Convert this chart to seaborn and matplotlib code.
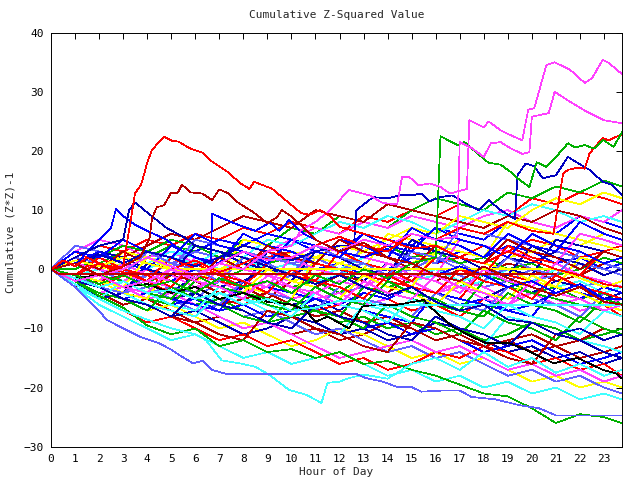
import matplotlib
matplotlib.use("Agg")
import matplotlib.pyplot as plt
import seaborn as sns
import pandas as pd

# hourly sample points used by the bulk of the traces
HOURS = list(range(24)) + [23.75]

# bulk of the traces (one value per hour)
LINE_01 = [0, 2, 4, 3, 5, 4, 6, 5, 7, 6, 8, 7, 6, 9, 8, 10, 9, 11, 10, 9, 12, 11, 13, 12, 11]
LINE_02 = [0, -1, 1, 3, 2, 4, 3, 2, 5, 4, 7, 6, 9, 8, 7, 10, 12, 11, 10, 13, 12, 14, 13, 15, 14]
LINE_03 = [0, 1, -1, 0, 2, 1, 3, 5, 4, 6, 5, 4, 3, 6, 5, 4, 7, 6, 5, 8, 7, 6, 9, 8, 7]
LINE_04 = [0, 3, 5, 4, 2, 3, 1, 2, 4, 3, 5, 7, 6, 8, 7, 9, 8, 7, 9, 10, 8, 7, 9, 8, 10]
LINE_05 = [0, -2, -1, 1, 0, 2, 4, 3, 2, 5, 4, 6, 8, 7, 9, 8, 6, 8, 10, 9, 11, 10, 8, 9, 8]
LINE_06 = [0, 1, 3, 2, 4, 6, 5, 7, 9, 8, 7, 10, 9, 8, 11, 10, 9, 8, 7, 9, 8, 10, 9, 7, 6]
LINE_07 = [0, -1, -3, -2, -4, -1, -2, 0, 2, 1, 3, 2, 4, 3, 5, 7, 6, 9, 8, 7, 10, 12, 11, 13, 12]
LINE_08 = [0, -2, -1, -3, -2, -4, -1, -3, -2, 0, -1, 1, 0, -2, 1, 0, 2, 1, -1, 2, 1, 3, 2, 0, 1]
LINE_09 = [0, -1, -3, -2, -4, -3, -5, -2, -4, -3, -1, -2, -4, -3, -1, -2, 0, -1, -3, -2, 0, -1, -3, -2, -3]
LINE_10 = [0, 2, 1, -1, 0, -2, -1, 1, 0, 2, 3, 1, 0, 2, 4, 3, 1, 2, 4, 3, 5, 4, 2, 3, 4]
LINE_11 = [0, -1, 1, 0, -2, -1, -3, -2, 0, -1, -3, -2, -4, -1, -3, -2, -4, -3, -1, -2, -4, -3, -5, -4, -6]
LINE_12 = [0, -2, -4, -3, -1, -2, 0, -1, 1, 3, 2, 0, 1, -1, 0, 2, 1, 3, 2, 4, 3, 1, 2, 0, 1]
LINE_13 = [0, 1, -1, -3, -2, -4, -3, -5, -4, -2, -3, -5, -4, -6, -5, -3, -4, -2, -3, -5, -4, -6, -5, -7, -6]
LINE_14 = [0, -1, 0, 2, 1, 3, 2, 0, 1, -1, 0, -2, -1, 1, 0, -2, -1, -3, -2, 0, -1, -3, -2, -4, -3]
LINE_15 = [0, -3, -2, -4, -3, -1, -2, -4, -3, -5, -2, -3, -1, -2, -4, -1, -2, 0, -1, 1, 0, -2, -1, 1, 0]
LINE_16 = [0, 2, 0, 1, 3, 2, 0, -1, 1, 0, -2, -1, 1, 3, 2, 1, 3, 5, 4, 2, 3, 5, 4, 6, 5]
LINE_17 = [0, -1, -2, -4, -3, -5, -4, -6, -3, -4, -6, -5, -7, -4, -5, -3, -4, -6, -5, -3, -4, -2, -3, -5, -4]
LINE_18 = [0, 1, 0, -2, -1, 1, 3, 2, 4, 3, 1, 2, 0, 1, -1, 0, 2, 1, -1, 0, -2, -1, 1, 0, -1]
LINE_19 = [0, -2, -3, -1, -2, -4, -3, -5, -6, -4, -5, -7, -6, -4, -5, -7, -6, -8, -5, -6, -4, -5, -7, -6, -8]
LINE_20 = [0, 0, 2, 4, 3, 5, 4, 2, 3, 1, 2, 4, 3, 5, 4, 2, 3, 1, 2, 0, 1, -1, 0, 2, 1]
LINE_21 = [0, -1, -3, -5, -4, -6, -5, -7, -6, -8, -7, -5, -6, -4, -5, -3, -4, -6, -5, -7, -6, -4, -5, -3, -4]
LINE_22 = [0, 1, -1, -2, 0, -1, -3, -2, -4, -3, -5, -4, -2, -3, -1, -2, -4, -3, -5, -6, -4, -5, -7, -6, -5]
LINE_23 = [0, -2, -1, 1, 3, 2, 1, 3, 2, 0, 1, -1, 0, 2, 1, -1, 0, -2, -1, -3, -2, 0, -1, -3, -2]
LINE_24 = [0, -2, -4, -6, -5, -7, -9, -8, -10, -9, -11, -10, -12, -11, -9, -10, -12, -11, -13, -12, -14, -13, -15, -14, -13]
LINE_25 = [0, -1, -3, -5, -7, -6, -8, -10, -9, -11, -13, -12, -10, -11, -13, -15, -14, -16, -15, -17, -19, -18, -20, -19, -20]
LINE_26 = [0, -2, -5, -4, -6, -8, -7, -9, -11, -10, -8, -9, -11, -10, -12, -11, -9, -10, -12, -14, -13, -15, -14, -16, -15]
LINE_27 = [0, -1, -2, -4, -3, -5, -7, -6, -8, -7, -9, -11, -10, -12, -14, -13, -15, -14, -16, -18, -17, -19, -18, -20, -21]
LINE_28 = [0, -3, -5, -7, -9, -8, -10, -12, -11, -13, -12, -14, -16, -15, -17, -16, -14, -15, -13, -14, -16, -15, -17, -16, -18]
LINE_29 = [0, -2, -1, -3, -5, -4, -6, -5, -7, -9, -8, -7, -9, -8, -10, -9, -11, -10, -12, -11, -9, -10, -12, -11, -10]
LINE_30 = [0, -1, -3, -2, -4, -6, -5, -7, -6, -8, -7, -6, -8, -10, -9, -11, -10, -12, -14, -13, -12, -14, -16, -15, -14]
LINE_31 = [0, -2, -4, -3, -5, -4, -6, -8, -10, -9, -11, -13, -15, -14, -13, -12, -14, -13, -15, -17, -16, -18, -17, -19, -18]
LINE_32 = [0, -3, -6, -8, -10, -12, -11, -13, -15, -14, -16, -15, -14, -16, -18, -17, -19, -18, -20, -19, -21, -20, -22, -21, -22]
LINE_33 = [0, -1, -2, -1, -3, -2, -4, -6, -5, -4, -6, -8, -7, -9, -8, -10, -12, -11, -13, -12, -11, -13, -12, -10, -11]
LINE_34 = [0, -1, -2, 3, 2, 1, 0, -1, 5, 4, 3, 2, 1, 0, 6, 5, 4, 3, 2, 8, 7, 6, 5, 4, 3]
LINE_35 = [0, -2, -3, -4, 1, 0, -1, -2, -3, 3, 2, 1, 0, -1, -2, 4, 3, 2, 1, 0, -1, 5, 4, 3, 2]
LINE_36 = [0, 4, 3, 2, 1, 0, 5, 4, 3, 2, 1, 0, -1, 4, 3, 2, 1, 7, 6, 5, 4, 3, 2, 1, 0]
LINE_37 = [0, -1, -2, -3, -4, 0, -1, -2, -3, -4, -5, 1, 0, -1, -2, -3, -4, -5, 0, -1, -2, -3, -4, -5, -6]
LINE_38 = [0, -2, -3, -4, -5, -6, -2, -3, -4, -5, -6, -7, -8, -3, -4, -5, -6, -7, -2, -3, -4, -5, -6, -7, -8]
LINE_39 = [0, -1, -2, -3, -4, -5, -6, -7, -2, -3, -4, -5, -6, -7, -8, -9, -4, -5, -6, -7, -8, -3, -4, -5, -6]
LINE_40 = [0, 1, 0, -1, -2, -3, 2, 1, 0, -1, -2, 4, 3, 2, 1, 0, -1, 5, 4, 3, 2, 1, 6, 5, 4]
LINE_41 = [0, -1, -3, -4, -6, -7, -8, -4, -5, -7, -8, -10, -11, -6, -7, -9, -10, -12, -13, -8, -9, -11, -12, -13, -14]
LINE_42 = [0, -2, -3, -5, -6, -8, -9, -11, -12, -7, -8, -10, -11, -13, -14, -9, -10, -12, -13, -15, -16, -11, -12, -14, -15]
LINE_43 = [0, -1, -2, -4, -5, 1, 0, -1, -3, -4, -5, 2, 1, 0, -1, -3, 3, 2, 1, 0, -2, -3, 2, 1, 0]
LINE_44 = [0, -2, 3, 2, 0, -1, 4, 3, 1, 0, -2, 3, 2, 0, -1, 5, 3, 2, 0, -1, 4, 2, 1, -1, 0]
LINE_45 = [0, -1, -3, -4, -1, -3, -4, -6, -2, -4, -5, -7, -3, -5, -6, -8, -4, -6, -7, -3, -5, -6, -8, -4, -5]
LINE_46 = [0, 3, 1, 0, -2, 2, 0, -1, -3, 1, -1, -2, 3, 1, 0, -2, 2, 0, -1, 4, 2, 1, -1, 3, 2]
LINE_47 = [0, -2, -4, -5, -7, -3, -5, -6, -8, -9, -5, -7, -8, -10, -6, -8, -9, -11, -7, -9, -10, -12, -8, -10, -11]
LINE_48 = [0, 1, 3, 1, 0, 4, 2, 1, 6, 4, 3, 1, 5, 4, 2, 7, 5, 4, 2, 6, 4, 3, 8, 6, 5]
LINE_49 = [0, -1, -2, 1, -1, -2, -4, 0, -2, -3, 2, 0, -1, -3, 1, -1, -2, -4, 0, -2, -3, 1, -1, -2, -3]
LINE_50 = [0, -3, -5, -2, -4, -6, -7, -3, -5, -6, -8, -4, -6, -7, -9, -5, -7, -8, -10, -6, -8, -9, -11, -7, -8]
LINE_51 = [0, 2, 0, 3, 1, 0, -2, 2, 0, 4, 2, 1, 5, 3, 2, 0, 4, 2, 1, 5, 3, 2, 0, 3, 2]
LINE_52 = [0, -1, -2, -3, 2, 0, -1, -3, -4, 0, -2, -3, -5, -1, -3, -4, -6, -2, -4, -5, -1, -3, -4, -6, -7]
LINE_53 = [0, -2, -3, -5, -6, -8, -4, -6, -7, -9, -10, -6, -8, -9, -11, -12, -8, -10, -11, -13, -9, -11, -12, -14, -15]
LINE_54 = [0, 2, 1, -1, 3, 1, 0, -2, 2, 1, -1, 4, 2, 1, -1, 3, 2, 0, -2, 2, 0, -1, 3, 1, 0]
LINE_55 = [0, -1, 2, 0, -1, -3, 1, -1, -2, -4, 0, -2, -3, -5, -1, -3, -4, 0, -2, -3, -5, -1, -3, -4, -5]
LINE_56 = [0, 1, -1, -2, -4, -5, -1, -3, -4, -6, -7, -3, -5, -6, -2, -4, -5, -7, -8, -4, -6, -7, -9, -5, -6]
LINE_57 = [0, 3, 2, 5, 3, 2, 6, 4, 3, 1, 5, 3, 2, 6, 4, 3, 7, 5, 4, 2, 6, 4, 3, 1, 2]
LINE_58 = [0, -2, -1, -3, -4, 0, -2, -3, -5, -1, -3, -4, -6, -2, -4, -5, -1, -3, -4, -6, -2, -4, -5, -7, -6]

# traces that stand out, each with its own sample hours
RED_PEAK_H = [0, 0.5, 1, 1.5, 2, 2.5, 3, 3.2, 3.5, 3.75, 4.0, 4.2, 4.7, 5.05, 5.3, 5.75, 6.3, 6.6,
              7.4, 7.85, 8.25, 8.45, 9.2, 9.9, 10.4, 10.75, 11.2, 11.6, 12.0,
              13, 14, 15, 16, 17, 18, 19, 20, 21, 22, 23, 23.75]
RED_PEAK_V = [0, 1.5, 0.5, 2, 1, 0, 0.5, 5.5, 12.9, 14.3, 18, 20.2, 22.4, 21.7, 21.6, 20.5, 19.7, 18.5,
              16.3, 14.6, 13.6, 14.8, 13.6, 11.2, 9.5, 9.2, 10, 9, 7.2,
              6, 5, 3.5, 4, 2, 1, 3, 1.5, 0, -1, -2.5, -3]

DARK_RED_H = [0, 1, 2, 3, 3.7, 4.1, 4.2, 4.4, 4.7, 5.0, 5.25, 5.45, 5.8, 6.3, 6.7, 7.0, 7.4, 7.8,
              8.4, 9.0, 9.4, 9.6, 10.05, 11, 12, 13, 14, 15, 16, 17, 18, 19, 20, 21, 22, 23, 23.75]
DARK_RED_V = [0, 1, -1, 0.5, 2, 5.2, 8.6, 10.5, 10.8, 13, 12.8, 14.3, 13, 12.8, 11.7, 13.5, 12.8, 11.2,
              9.7, 7.8, 8.8, 10, 8.8, 5, 3, 4.5, 2, 1, -1, -2, 0.5, -1.5, -3, -4.5, -3, -5.5, -6]

MAG_TOP_H = [0, 1, 2, 3, 4, 5, 6, 7, 8, 9, 10, 10.4, 11, 11.6, 12.4, 13.25, 13.8, 14.4, 14.6, 14.9,
             15.3, 15.75, 16.2, 16.6, 17.3, 17.4, 18.0, 18.2, 18.7, 19.1, 19.6, 19.85, 20.1,
             20.6, 20.95, 21.6, 22.2, 22.5, 22.95, 23.2, 23.75]
MAG_TOP_V = [0, -2, -1, -3, -2, 0, -1.5, 1, 0, 3, 4, 6.6, 8, 10, 13.4, 12.5, 11.2, 11, 15.6, 15.6,
             14.2, 14.5, 13.9, 12.8, 13.6, 25.2, 24, 25, 23.5, 22.7, 21.8, 27, 27.2,
             34.5, 35, 33.7, 31.5, 32.3, 35.4, 34.9, 33]

MAG_2_H = [0, 1, 2, 3, 4, 5, 6, 7, 8, 9, 10, 11, 12, 13, 14, 15, 16,
           16.9, 17.0, 17.5, 18.0, 18.3, 18.7, 19.1, 19.6, 19.9, 20.0, 20.7, 20.95, 21.6, 22.3, 23.0, 23.75]
MAG_2_V = [0, 1, -1, 0, 2, 0.5, -1, 1, 3, 1.5, 2, 4, 3, 5, 4, 6, 5,
           5.5, 21.5, 20.5, 19, 21.3, 21.5, 20.5, 19.5, 19.8, 25.8, 26.4, 30, 28.3, 26.6, 25.2, 24.7]

GREEN_JUMP_H = [0, 1, 2, 3, 4, 5, 6, 7, 8, 9, 10, 11, 12, 13, 14, 15,
                16.0, 16.2, 16.9, 17.2, 17.7, 18.2, 18.7, 19.1, 19.4, 19.9, 20.2, 20.6, 20.9,
                21.5, 21.8, 22.2, 22.6, 22.95, 23.4, 23.75]
GREEN_JUMP_V = [0, -1, -2.5, -1, -3, -2, -4, -1.5, -3, -2, -4, -1, -2.5, 0, -1.5, 1,
                2, 22.5, 21, 21.5, 19.7, 18, 17.7, 16.5, 15.4, 13.9, 18.1, 17.3, 18.5,
                21.3, 20.6, 21, 20.4, 21.9, 20.7, 23.2]

RED_END_H = [0, 1, 2, 3, 4, 5, 6, 7, 8, 9, 10, 11, 12, 13, 14, 15, 16, 17, 18, 19, 20,
             20.9, 21.3, 21.5, 21.9, 22.2, 22.4, 22.95, 23.2, 23.5, 23.75]
RED_END_V = [0, -1, 1, -0.5, -2, 0, 1.5, -0.5, 1, 3, 2, 4, 5.5, 4, 3, 6, 5, 7, 6, 8, 6.5,
             6, 16.2, 16.8, 17.2, 17, 19.6, 22.2, 21.8, 22.4, 22.8]

BLUE_HI_H = [0, 1, 2, 3, 4, 5, 6, 7, 8, 9, 10, 11, 12,
             12.6, 12.7, 13.4, 14.0, 14.5, 15.0, 15.4, 15.75, 16.2, 16.7, 17.3, 17.8, 18.2, 18.7,
             19.3, 19.4, 19.75, 20.1, 20.45, 21.0, 21.5, 21.9, 22.4, 22.95, 23.3, 23.75]
BLUE_HI_V = [0, 1, 2.5, 1, 3, 2, 0.5, 2, 4, 3, 1.5, 3, 4,
             4, 10, 12.2, 12, 12.5, 12.5, 12.8, 11.5, 12.2, 12.5, 11, 10, 11.7, 10,
             8.5, 15.9, 17.9, 17.4, 15.4, 15.9, 19, 18, 16.8, 14.8, 14.3, 12.6]

BLUE_EARLY_H = [0, 0.5, 1, 1.5, 2, 2.5, 2.7, 3.0, 3.5, 4.0, 4.8, 5.3, 6, 6.65, 6.7, 7.2, 7.8, 8.5,
                9.1, 9.5, 9.9, 10.5, 11, 12, 13, 14, 15, 16, 17, 18, 19, 20, 21, 22, 23, 23.75]
BLUE_EARLY_V = [0, 1.5, 0.5, 3, 5, 7, 10.2, 9, 7.5, 6.5, 5, 3.5, 2, 1, 9.4, 8.5, 7.5, 6.5,
                7.9, 6.5, 8.3, 6, 5, 3, 2, 3.5, 1, -1, 0.5, -1, -3, -2, -4, -2.5, -5, -5]

BLUE_EARLY2_H = [0, 1, 2, 3, 3.25, 3.5, 4, 4.8, 5.5, 6, 7, 8, 9, 10, 11, 12, 13, 14, 15, 16,
                 17, 18, 19, 20, 21, 22, 23, 23.75]
BLUE_EARLY2_V = [0, 2, 4, 5, 10, 11.3, 9.6, 7, 5.5, 4, 3, 2, 0.5, -1, -2.5, -1, -3, -4.5, -3, -5.5,
                 -7, -6, -8.5, -9, -11, -10, -12, -11]

MED_BLUE_LOW_H = [0, 1, 2, 2.3, 3, 3.7, 4.5, 5, 5.45, 5.9, 6.3, 6.7, 7.3, 12.7, 13.1, 13.8, 14.4,
                  15.0, 15.4, 16.3, 17.0, 17.5, 18.5, 19.5, 20.3, 21.0, 23.75]
MED_BLUE_LOW_V = [0, -3, -7, -8.5, -10, -11.4, -12.5, -13.6, -14.8, -15.9, -15.5, -17, -17.7, -17.7,
                  -18.4, -19, -19.9, -19.9, -20.7, -20.5, -20.5, -21.6, -22, -23, -23.5, -24.7, -24.7]

CYAN_LOW_H = [0, 1, 2, 3, 4, 5, 6, 6.45, 7.1, 7.85, 8.5, 9.1, 9.9, 10.6, 11.25, 11.5, 12.0, 12.4,
              13, 14, 15, 16, 17, 18, 19, 20, 21, 22, 23, 23.75]
CYAN_LOW_V = [0, -2.5, -5, -7, -8.5, -10, -11, -12, -15.4, -15.9, -16.5, -17.9, -20.4, -21.2, -22.6,
              -19.2, -19, -18.4, -17.8, -18.5, -16, -15, -17, -14, -16.5, -15, -17.5, -16, -18, -17]

GREEN_LOW_V = [0, -2, -4.5, -6.5, -9.5, -11, -10, -13, -12, -14, -13.5, -15, -14, -16, -15.5, -17,
               -18, -19.5, -21, -21.5, -23.5, -26, -24.5, -25, -26]

BLACK_H = [0, 1, 2, 3, 4, 5, 6, 7, 8, 9, 10.05, 10.6, 11, 11.5, 12.4, 12.95, 13.5, 14.4, 15.5, 15.75,
           16.7, 17.6, 18.1, 19, 19.8, 20.9, 21.9, 22.95, 23.5, 23.75]
BLACK_V = [0, -1.5, -1, -3, -2.5, -4, -3, -5, -4, -5.5, -6, -7, -8.9, -8, -10, -6.3, -6, -6, -5.2, -6.3,
           -9.7, -11.6, -12.5, -12.4, -13.7, -15.9, -15, -17, -17.6, -18.5]

CYAN_FLAT_H = [0, 1, 2, 3, 4, 5, 6, 7, 8, 9, 10, 11, 12, 13, 14, 15, 15.75, 23.75]
CYAN_FLAT_V = [0, -1.5, -3, -2, -4, -3.5, -5, -4, -6, -5, -7, -6.5, -5.3, -5.4, -6.5, -6, -6, -6]

YELLOW_FLAT_H = [0, 1, 2, 3, 4, 4.9, 21.0, 22, 23, 23.75]
YELLOW_FLAT_V = [0, 1.5, 0.5, 2, 1, 0, 0, -1.5, -3, -2]

RED_FLAT_H = [0, 0.3, 21.0]
RED_FLAT_V = [0, -0.75, -0.75]

# gnuplot-like line colours
COLOR_CYCLE = ["#ff0000", "#00b000", "#0000ff", "#ff40ff", "#40ffff",
               "#b00000", "#ffff00", "#0000b0", "#6060ff"]

cloud = [LINE_01, LINE_02, LINE_03, LINE_04, LINE_05, LINE_06, LINE_07, LINE_08, LINE_09,
         LINE_10, LINE_11, LINE_12, LINE_13, LINE_14, LINE_15, LINE_16, LINE_17, LINE_18,
         LINE_19, LINE_20, LINE_21, LINE_22, LINE_23, LINE_24, LINE_25, LINE_26, LINE_27,
         LINE_28, LINE_29, LINE_30, LINE_31, LINE_32, LINE_33, LINE_34, LINE_35, LINE_36,
         LINE_37, LINE_38, LINE_39, LINE_40, LINE_41, LINE_42, LINE_43, LINE_44, LINE_45,
         LINE_46, LINE_47, LINE_48, LINE_49, LINE_50, LINE_51, LINE_52, LINE_53, LINE_54,
         LINE_55, LINE_56, LINE_57, LINE_58]

series = []
for i, vals in enumerate(cloud):
    series.append((f"line{i + 1:02d}", HOURS, vals, COLOR_CYCLE[i % len(COLOR_CYCLE)]))

series += [
    ("green_low", HOURS, GREEN_LOW_V, "#00b000"),
    ("cyan_low", CYAN_LOW_H, CYAN_LOW_V, "#40ffff"),
    ("med_blue_low", MED_BLUE_LOW_H, MED_BLUE_LOW_V, "#6060ff"),
    ("black", BLACK_H, BLACK_V, "#000000"),
    ("cyan_flat", CYAN_FLAT_H, CYAN_FLAT_V, "#40ffff"),
    ("yellow_flat", YELLOW_FLAT_H, YELLOW_FLAT_V, "#ffff00"),
    ("blue_early", BLUE_EARLY_H, BLUE_EARLY_V, "#0000ff"),
    ("blue_early2", BLUE_EARLY2_H, BLUE_EARLY2_V, "#0000b0"),
    ("blue_hi", BLUE_HI_H, BLUE_HI_V, "#0000c0"),
    ("red_end", RED_END_H, RED_END_V, "#ff0000"),
    ("green_jump", GREEN_JUMP_H, GREEN_JUMP_V, "#00b000"),
    ("mag_2", MAG_2_H, MAG_2_V, "#ff40ff"),
    ("mag_top", MAG_TOP_H, MAG_TOP_V, "#ff40ff"),
    ("dark_red", DARK_RED_H, DARK_RED_V, "#b00000"),
    ("red_peak", RED_PEAK_H, RED_PEAK_V, "#ff0000"),
    ("red_flat", RED_FLAT_H, RED_FLAT_V, "#c00000"),
]

rows = []
palette = {}
for name, hrs, vals, col in series:
    palette[name] = col
    for h, v in zip(hrs, vals):
        rows.append({"hour": h, "value": v, "series": name})
df = pd.DataFrame(rows)

sns.set_style("white")
plt.rcParams["font.family"] = ["DejaVu Sans Mono"]
plt.rcParams["lines.antialiased"] = False

fig = plt.figure(figsize=(6.4, 4.8), dpi=100)
ax = fig.add_axes([51 / 640, 33.3 / 480, 571 / 640, 414 / 480])

sns.lineplot(data=df, x="hour", y="value", hue="series", palette=palette,
             estimator=None, sort=False, legend=False, linewidth=0.5, ax=ax)

ax.set_xlim(0, 23.75)
ax.set_ylim(-30, 40)
ax.set_xticks(range(24))
ax.set_yticks(range(-30, 41, 10))
ax.tick_params(direction="in", length=4.3, width=0.7, top=True, right=True,
               labelsize=8, colors="black", pad=5)
ax.set_xlabel("")
ax.set_ylabel("")
for sp in ax.spines.values():
    sp.set_visible(True)
    sp.set_color("black")
    sp.set_linewidth(0.7)

fig.text(336.5 / 640, 1 - 15 / 480, "Cumulative Z-Squared Value", ha="center", va="center", fontsize=8)
fig.text(336.5 / 640, 1 - 472 / 480, "Hour of Day", ha="center", va="center", fontsize=8)
fig.text(11 / 640, 1 - 232 / 480, "Cumulative (Z*Z)-1", ha="center", va="center",
         rotation=90, fontsize=8)

fig.savefig("out.png", dpi=100)
